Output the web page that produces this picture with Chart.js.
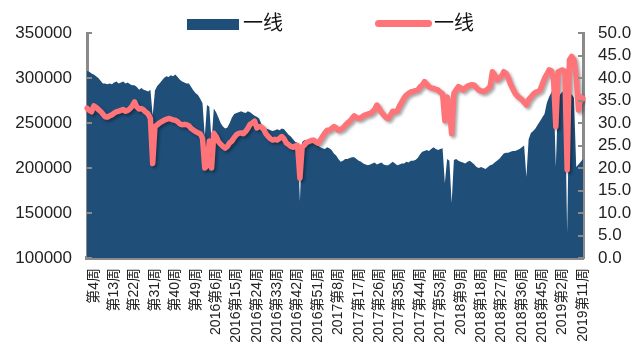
<!DOCTYPE html>
<html>
<head>
<meta charset="utf-8">
<script src="https://cdn.jsdelivr.net/npm/chart.js@4.4.0/dist/chart.umd.min.js"></script>
<style>
  html, body { margin: 0; padding: 0; background: #fff; }
  #wrap { position: relative; width: 633px; height: 342px; overflow: hidden; }
  .legTxt { position: absolute; top: 11px; font: 20px "Liberation Sans", "Noto Sans CJK SC", sans-serif; color: #111; line-height: 24px; }
</style>
</head>
<body>
<div id="wrap">
  <canvas id="chart" width="633" height="342"></canvas>
  <div style="position:absolute;left:187px;top:19px;width:52px;height:11px;background:#1F4E79;"></div>
  <div class="legTxt" style="left:243px;">一线</div>
  <div style="position:absolute;left:375px;top:20px;width:57px;height:7px;border-radius:4px;background:#FF7478;"></div>
  <div class="legTxt" style="left:434px;">一线</div>
</div>
<script>
// weeks: 2015 (no year prefix) .. 2019 week 11
const years = [2015, 2016, 2017, 2018, 2019];
const weeksPerYear = [52, 52, 53, 52, 11];

// 一线 (area, left axis)
const areaValues = [
  308000,307000,305000,304000,302000,300000,297000,294000,294000,293000,
  294000,293000,295000,296000,294000,295000,296000,294000,295000,293000,
  292000,292000,290000,287000,289000,287000,286000,285000,287000,258000,
  286000,291000,294000,297000,300000,302000,301000,303000,302000,304000,
  301000,298000,296000,295000,294000,294000,290000,286000,283000,281000,
  277000,272000,235000,270000,268000,230000,266000,262000,256000,250000,
  246000,244000,245000,250000,256000,260000,261000,262000,263000,262000,
  261000,263000,262000,260000,258000,257000,255000,249000,246000,244000,
  243000,242000,241000,242000,243000,242000,244000,243000,240000,237000,
  235000,232000,229000,228000,163000,229000,231000,230000,229000,230000,
  228000,226000,225000,223000,222000,221000,223000,222000,220000,216000,
  214000,210000,207000,208000,210000,210000,211000,212000,212000,210000,
  208000,207000,205000,204000,203000,204000,205000,206000,204000,205000,
  206000,204000,203000,203000,205000,207000,205000,203000,204000,205000,
  205000,207000,206000,208000,208000,209000,211000,215000,218000,219000,
  220000,219000,221000,223000,221000,220000,221000,222000,183000,210000,
  208000,161000,209000,210000,208000,207000,206000,205000,207000,208000,
  206000,204000,201000,200000,201000,200000,199000,201000,203000,204000,
  206000,208000,210000,213000,216000,217000,217000,218000,219000,219000,
  220000,221000,223000,225000,190000,232000,239000,241000,244000,248000,
  252000,256000,260000,272000,279000,284000,289000,201000,278000,282000,
  285000,284000,128000,280000,282000,278000,201000,204000,207000,210000
];

// 一线 (line, right axis)
const lineValues = [
  33.3,32.8,32.5,33.8,33.5,33.0,32.6,32.0,31.4,31.3,
  31.6,31.8,32.2,32.5,32.6,32.8,33.0,32.6,32.8,33.2,
  33.8,34.7,33.6,33.1,33.2,32.9,32.4,32.0,31.0,21.0,
  29.2,29.6,30.0,30.3,30.6,30.8,31.0,30.9,30.7,30.6,
  30.3,29.8,29.6,29.7,29.6,29.4,28.8,28.4,28.1,27.8,
  27.6,26.6,20.0,20.5,26.0,20.0,27.7,27.0,25.9,25.3,
  24.8,24.4,24.8,25.6,26.0,26.8,27.4,27.7,27.8,27.6,
  28.1,28.8,29.7,30.0,30.4,28.9,29.2,29.1,28.6,27.6,
  27.0,26.5,26.2,26.4,26.2,26.6,27.0,26.5,25.6,25.2,
  24.8,24.6,24.9,25.0,17.7,24.7,25.1,25.7,25.9,26.1,
  26.2,25.8,25.5,26.2,27.0,27.8,28.4,28.4,28.8,29.2,
  28.9,28.4,28.6,28.9,29.5,30.0,30.4,31.0,31.6,31.2,
  31.0,31.2,31.6,31.8,32.0,32.1,32.5,33.0,34.0,33.2,
  32.4,31.8,31.2,31.0,31.8,32.6,32.5,32.7,33.8,34.7,
  35.6,36.2,36.6,36.9,37.0,37.2,37.3,38.0,38.4,39.2,
  38.6,38.0,37.8,37.7,37.5,37.3,36.8,36.5,30.5,35.8,
  33.5,27.6,36.6,37.4,38.1,37.8,37.3,37.8,38.2,38.4,
  38.5,38.4,37.8,37.3,37.1,37.0,37.2,37.6,38.1,41.4,
  40.6,39.6,40.0,40.4,41.4,41.0,40.0,38.6,37.6,36.6,
  36.0,35.6,35.2,34.6,34.0,35.2,35.8,36.4,36.8,37.0,
  37.3,38.6,39.9,40.8,41.8,41.6,39.6,29.2,41.4,41.6,
  41.8,41.4,19.6,44.0,44.8,44.0,40.3,32.9,35.8,35.4
];

const leftTicks = [100000, 350000, 50000];   // min, max, step
const rightTicks = [0, 50, 5];

let labels = [];
years.forEach((y, k) => {
  for (let w = 1; w <= weeksPerYear[k]; w++) {
    labels.push((k === 0 ? "" : y) + "第" + w + "周");
  }
});

const FONT = '"Liberation Sans", "Noto Sans CJK SC", sans-serif';
const AXIS = "#8a8a8a";

/* shadow under the red line */
const lineShadow = {
  id: "lineShadow",
  beforeDatasetDraw(chart, args) {
    if (args.index !== 1) return;
    const ctx = chart.ctx;
    ctx.save();
    ctx.shadowColor = "rgba(0,0,0,0.35)";
    ctx.shadowBlur = 3;
    ctx.shadowOffsetX = 2;
    ctx.shadowOffsetY = 2;
  },
  afterDatasetDraw(chart, args) {
    if (args.index === 1) chart.ctx.restore();
  }
};

/* tick marks pointing into the plot */
const innerTicks = {
  id: "innerTicks",
  afterDraw(chart) {
    const ctx = chart.ctx, a = chart.chartArea;
    ctx.save();
    ctx.strokeStyle = AXIS;
    ctx.lineWidth = 2;
    [["y", a.left, 5], ["y1", a.right, -5]].forEach(([id, x0, len]) => {
      const s = chart.scales[id];
      s.ticks.forEach(t => {
        const py = Math.round(s.getPixelForValue(t.value));
        ctx.beginPath();
        ctx.moveTo(x0, py);
        ctx.lineTo(x0 + len, py);
        ctx.stroke();
      });
    });
    ctx.restore();
  }
};

new Chart(document.getElementById("chart"), {
  type: "line",
  data: {
    labels: labels,
    datasets: [{
      label: "一线",
      data: areaValues,
      yAxisID: "y",
      fill: "start",
      backgroundColor: "#1F4E79",
      borderColor: "#1F4E79",
      borderWidth: 0,
      pointRadius: 0,
      tension: 0,
      order: 2
    }, {
      label: "一线",
      data: lineValues,
      yAxisID: "y1",
      fill: false,
      borderColor: "#FF7478",
      borderWidth: 5.5,
      borderCapStyle: "round",
      borderJoinStyle: "round",
      pointRadius: 0,
      tension: 0,
      order: 1
    }]
  },
  options: {
    responsive: false,
    animation: false,
    layout: { padding: { top: 33, left: 0, right: 0, bottom: 0 } },
    plugins: { legend: { display: false }, tooltip: { enabled: false } },
    scales: {
      x: {
        offset: false,
        grid: { display: false, drawTicks: false },
        border: { display: true, color: AXIS, width: 4 },
        ticks: {
          autoSkip: false,
          minRotation: 90,
          maxRotation: 90,
          padding: 10,
          color: "#222",
          font: { family: FONT, size: 14 },
          callback: function (v, i) {
            return (i - 3) % 9 === 0 ? this.getLabelForValue(v) : null;
          }
        },
        afterFit: s => { s.height = 84; }
      },
      y: {
        position: "left",
        min: leftTicks[0],
        max: leftTicks[1],
        grid: { display: false, drawTicks: false },
        border: { display: true, color: AXIS, width: 3 },
        ticks: {
          stepSize: leftTicks[2],
          autoSkip: false,
          padding: 15,
          color: "#222",
          font: { family: FONT, size: 17 },
          callback: v => String(v)
        },
        afterFit: s => { s.width = 87; }
      },
      y1: {
        position: "right",
        min: rightTicks[0],
        max: rightTicks[1],
        grid: { display: false, drawTicks: false },
        border: { display: true, color: AXIS, width: 3 },
        ticks: {
          stepSize: rightTicks[2],
          autoSkip: false,
          padding: 15,
          color: "#222",
          font: { family: FONT, size: 17 },
          callback: v => Number(v).toFixed(1)
        },
        afterFit: s => { s.width = 50; }
      }
    }
  },
  plugins: [lineShadow, innerTicks]
});
</script>
</body>
</html>
